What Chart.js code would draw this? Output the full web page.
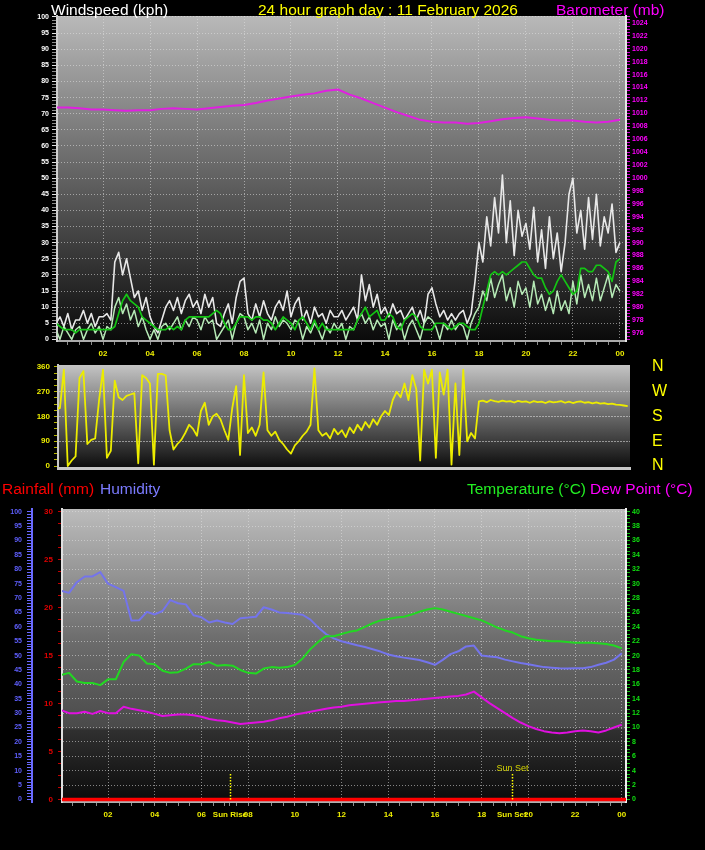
<!DOCTYPE html>
<html>
<head>
<meta charset="utf-8">
<title>24 hour graph</title>
<script src="https://cdn.jsdelivr.net/npm/chart.js@4.4.1/dist/chart.umd.min.js"></script>
<style>
  html, body { margin:0; padding:0; background:#000; }
  body { position:relative; width:705px; height:850px; overflow:hidden; font-family:'Liberation Sans', Arial, sans-serif; }
  canvas { position:absolute; left:0; }
  .txt { position:absolute; font-size:15.5px; line-height:16px; white-space:nowrap; }
</style>
</head>
<body>
<canvas id="windChart" width="705" height="360" style="top:0"></canvas>
<canvas id="dirChart" width="705" height="120" style="top:355px"></canvas>
<canvas id="climateChart" width="705" height="370" style="top:480px"></canvas>

<div class="txt" style="left:51px;top:2px;color:#ffffff">Windspeed (kph)</div>
<div class="txt" style="left:258px;top:2px;color:#ffff00">24 hour graph day : 11 February 2026</div>
<div class="txt" style="left:556px;top:2px;color:#ff00ff">Barometer (mb)</div>
<div class="txt" style="left:2px;top:481px;color:#ff0000">Rainfall (mm)</div>
<div class="txt" style="left:100px;top:481px;color:#7b7bff">Humidity</div>
<div class="txt" style="left:467px;top:481px;color:#22ee22">Temperature (°C)</div>
<div class="txt" style="left:590px;top:481px;color:#ff00ff">Dew Point (°C)</div>

<script>
// ---------- Data (hours of the day on x) ----------
const labelHours = [2, 4, 6, 8, 10, 12, 14, 16, 18, 20, 22, 24];
const hourLabels = ['02', '04', '06', '08', '10', '12', '14', '16', '18', '20', '22', '00'];
const sunHours = [7.22, 19.29];
const sunLabels = ['Sun Rise', 'Sun Set'];
const sunTopLabels = ['', 'Sun Set'];
const sunLineTop = 9.2;            // humidity units
const compassDegrees = [0, 90, 180, 270, 360];
const compassLabels = ['N', 'E', 'S', 'W', 'N'];

// wind (kph), one reading every 10 min from 00:00
const windGust = [
  5,7,4,8,3,6,  6,9,5,8,4,7,  7,8,6,24,27,20,  25,19,13,15,9,13,
  7,4,2,6,10,12,  9,13,8,12,14,10,  12,8,14,10,13,5,  4,8,11,5,13,18,
  19,8,6,11,7,12,  8,6,10,12,9,15,  7,11,13,6,9,5,  10,7,8,5,9,7,
  7,9,6,8,10,6,  20,12,17,10,14,8,  10,7,11,8,9,6,  8,10,6,9,5,14,
  16,11,7,9,6,8,  6,8,9,5,8,18,  30,24,38,29,44,33,  51,30,43,26,40,32,
  36,28,41,24,34,22,  38,25,33,21,30,45,  50,33,40,28,44,31,  45,29,38,33,42,27,
  30
];
const windSpeed = [
  3,0,4,2,0,3,  4,0,3,5,2,4,  0,4,3,10,13,8,  11,6,9,4,7,3,
  0,3,0,4,5,3,  5,7,3,6,4,7,  6,3,7,5,6,0,  2,4,6,0,5,8,
  7,3,5,2,6,0,  5,3,7,4,6,5,  3,6,5,0,4,2,  5,3,0,4,2,5,
  3,5,0,4,3,6,  8,5,7,3,6,4,  5,0,6,3,5,0,  4,6,3,0,5,7,
  6,4,0,5,3,6,  3,5,4,0,5,8,  10,15,12,19,13,17,  20,12,16,10,18,14,
  16,10,18,11,14,9,  13,8,15,9,12,8,  18,11,20,13,17,12,  19,12,16,20,13,17,
  15
];
const windAvg = [
  5,4,3,3,3,2,  3,3,3,3,3,3,  3,3,3,4,8,12,  14,12,11,10,7,6,
  5,4,3,3,3,4,  3,4,3,6,7,7,  7,7,7,7,8,9,  8,5,3,3,5,7,
  7,7,6,7,7,6,  6,5,3,5,7,6,  5,3,6,7,5,3,  6,3,5,3,3,3,
  3,3,3,3,3,6,  8,10,7,8,9,6,  6,8,7,4,3,6,  7,8,7,4,3,3,
  3,5,5,5,4,3,  4,5,5,4,3,3,  5,10,15,20,21,20,  21,20,21,22,23,24,
  24,22,20,19,19,16,  14,15,18,20,18,16,  14,15,22,22,21,21,  23,23,22,21,18,24,
  25
];
// barometer (mb), every 30 min
const baro = [
  1010.9, 1010.9, 1010.8, 1010.6, 1010.6, 1010.5, 1010.4, 1010.5, 1010.5, 1010.7,
  1010.8, 1010.7, 1010.6, 1010.8, 1011.0, 1011.2, 1011.3, 1011.6, 1012.0, 1012.3,
  1012.6, 1012.9, 1013.1, 1013.5, 1013.7, 1012.9, 1012.3, 1011.6, 1010.9, 1010.2,
  1009.6, 1009.0, 1008.7, 1008.6, 1008.6, 1008.4, 1008.5, 1008.8, 1009.1, 1009.3,
  1009.4, 1009.2, 1009.0, 1008.9, 1008.9, 1008.7, 1008.6, 1008.7, 1009.0
];
// wind direction (degrees), every 10 min from 00:00 to 24:20
const windDir = [
  210,210,350,0,20,35,  320,345,80,95,100,240,  350,30,55,310,250,240,  255,260,265,10,330,320,
  300,5,335,335,330,130,  60,80,95,120,150,135,  110,200,230,150,180,190,  170,130,95,210,290,40,
  330,120,140,110,150,340,  130,110,125,95,80,60,  45,75,90,110,125,150,  355,130,110,120,100,135,
  115,130,105,140,120,150,  130,160,140,170,150,180,  200,185,240,270,250,300,  240,330,280,20,350,300,
  350,30,340,260,350,5,  300,40,350,90,120,100,  235,238,232,240,236,233,  238,234,236,231,237,233,
  235,230,236,232,234,229,  235,231,233,236,230,234,  229,233,235,230,232,228,  231,227,229,225,227,223,
  222,220,218
];
// climate, every 20 min
const humidity = [
  72.5,71.8,75.5,  77.5,77.5,79,  75,73.8,72.5,  62.2,62.3,65.2,  64.3,65.5,69.3,  68.2,67.8,64,
  63.3,61.5,62.2,  61.5,61,63,  63.2,63.5,66.8,  66,65,64.8,  64.5,64.2,62.5,  59.8,57.5,56,
  55,54.3,53.6,  53,52.2,51.4,  50.4,49.8,49.3,  48.9,48.5,47.7,  46.8,48.5,50.5,  51.5,53.2,53.5,
  50,49.7,49.4,  48.6,48,47.4,  47,46.5,46,  45.8,45.6,45.5,  45.6,45.6,46,  46.8,47.5,48.6,
  50.8
];
const temperature = [
  17.3,17.6,16.4,  16.2,16.2,15.9,  16.7,16.7,19.1,  20.2,20,18.9,  18.8,17.9,17.6,  17.7,18.2,18.8,
  18.8,19.1,18.6,  18.7,18.6,18,  17.6,17.5,18.2,  18.4,18.3,18.4,  18.7,19.6,20.9,  21.9,22.7,22.7,
  23,23.3,23.5,  24,24.5,24.9,  25.1,25.3,25.4,  25.7,26.1,26.4,  26.6,26.4,26.1,  25.8,25.5,25.2,
  24.9,24.4,23.9,  23.5,23.2,22.7,  22.4,22.2,22.1,  22,22,21.9,  21.8,21.8,21.8,  21.7,21.6,21.4,
  21
];
const dewPoint = [
  12.4,12.0,12.0,  12.2,11.9,12.3,  12.0,12.0,12.9,  12.6,12.4,12.2,  11.9,11.6,11.7,  11.8,11.8,11.7,
  11.5,11.2,11.0,  10.9,10.7,10.5,  10.6,10.7,10.8,  11.0,11.3,11.5,  11.8,12.0,12.2,  12.4,12.6,12.8,
  12.9,13.1,13.2,  13.3,13.4,13.5,  13.6,13.7,13.7,  13.8,13.9,14.0,  14.1,14.2,14.3,  14.4,14.6,15.0,
  14.2,13.4,12.7,  12.0,11.3,10.7,  10.2,9.8,9.5,  9.3,9.2,9.3,  9.5,9.6,9.5,  9.3,9.6,10.0,
  10.4
];
const rainTimes = [0, 24.2];
const rainfall = [0, 0];

// ---------- Helpers ----------
const F = "'Liberation Sans', Arial, sans-serif";
const DOT = 'rgba(225,225,225,0.55)';
const tickFont = (size, weight) => ({ family: F, size, weight });

function series(step, values){ return values.map((v, i) => ({ x: i * step, y: v })); }
function pairs(xs, ys){ return ys.map((v, i) => ({ x: xs[i], y: v })); }
function range(from, to, step){
  const out = [];
  for (let i = 0; from + i * step <= to + 1e-9; i++) out.push(+(from + i * step).toFixed(3));
  return out;
}
const isStep = (v, n) => Math.abs(v / n - Math.round(v / n)) < 1e-6;
const setTicks = values => s => { s.ticks = values.map(v => ({ value: v })); };
const fixW = w => s => { s.width = w; s.paddingTop = 0; s.paddingBottom = 0; };
const fixH = h => s => { s.height = h; s.paddingLeft = 0; s.paddingRight = 0; };
function hourLabel(v){
  let i = labelHours.indexOf(v);
  if (i >= 0) return hourLabels[i];
  i = sunHours.indexOf(v);
  return i >= 0 ? sunLabels[i] : '';
}
const evenHourGrid = c => (c.tick && isStep(c.tick.value, 2)) ? DOT : 'transparent';

function line(data, color, width, axis, order){
  return { data, borderColor: color, borderWidth: width, pointRadius: 0, tension: 0,
           fill: false, yAxisID: axis, order, borderJoinStyle: 'round' };
}
function plotBackground(stops){
  return {
    id: 'plotBg',
    beforeDraw(chart){
      const { ctx, chartArea: a } = chart;
      const g = ctx.createLinearGradient(0, a.top, 0, a.bottom);
      stops.forEach(s => g.addColorStop(s[0], s[1]));
      ctx.save();
      ctx.fillStyle = g;
      ctx.fillRect(a.left, a.top, a.right - a.left, a.bottom - a.top);
      ctx.restore();
    }
  };
}
function baseOptions(padding, scales){
  return {
    responsive: false, animation: false, events: [],
    layout: { padding },
    plugins: { legend: { display: false }, tooltip: { enabled: false } },
    scales
  };
}

// ---------- Wind speed + barometer ----------
new Chart(document.getElementById('windChart'), {
  type: 'line',
  data: { datasets: [
    line(series(1/6, windAvg), '#14c414', 1.7, 'y', 0),
    line(series(1/6, windSpeed), '#b6eab6', 1.5, 'y', 1),
    line(series(1/6, windGust), '#e8e8e8', 1.6, 'y', 2),
    line(series(0.5, baro), '#e020e0', 2, 'yBaro', 3)
  ]},
  options: baseOptions({ top: 16, left: 0, right: 0, bottom: 0 }, {
    x: {
      type: 'linear', min: 0.04, max: 24.26,
      afterBuildTicks: setTicks(range(0.5, 24, 0.5)), afterFit: fixH(19),
      ticks: { autoSkip: false, minRotation: 0, maxRotation: 0, padding: 4, color: '#eeee00',
               font: tickFont(8, 'bold'), callback: v => hourLabel(v) },
      grid: { color: evenHourGrid, tickColor: '#8c8c8c', tickLength: 4 },
      border: { color: '#ababab', width: 2, dash: [1, 2] }
    },
    y: {
      position: 'left', min: -0.5, max: 100.3,
      afterBuildTicks: setTicks(range(0, 100, 1)), afterFit: fixW(57),
      ticks: { autoSkip: false, padding: 3, color: '#ffffff', font: tickFont(7, 'bold'),
               callback: v => isStep(v, 5) ? String(v) : '' },
      grid: { color: c => (c.tick && isStep(c.tick.value, 5) && c.tick.value > 0) ? DOT : 'transparent',
              tickColor: c => (c.tick && isStep(c.tick.value, 5)) ? '#e0e0e0' : '#8a8a8a', tickLength: 5 },
      border: { color: '#cfcfcf', width: 2, dash: [1, 2] }
    },
    yBaro: {
      position: 'right', min: 974.76, max: 1025.08,
      afterBuildTicks: setTicks(range(975, 1025, 0.5)), afterFit: fixW(79),
      ticks: { autoSkip: false, padding: 2, color: '#ff00ff', font: tickFont(7, 'bold'),
               callback: v => isStep(v, 2) ? String(v) : '' },
      grid: { drawOnChartArea: false, tickColor: '#d000d0', tickLength: 4 },
      border: { color: '#e6e6e6', width: 2 }
    }
  }),
  plugins: [plotBackground([[0, '#b9b9b9'], [1, '#0a0a0a']])]
});

// ---------- Wind direction ----------
new Chart(document.getElementById('dirChart'), {
  type: 'line',
  data: { datasets: [ line(series(1/6, windDir), '#ecec00', 1.8, 'y', 0) ] },
  options: baseOptions({ top: 10, left: 0, right: 0, bottom: 0 }, {
    x: {
      type: 'linear', min: 0.085, max: 24.43, afterFit: fixH(7),
      ticks: { display: false }, grid: { display: false },
      border: { color: '#c8c8c8', width: 3 }
    },
    y: {
      position: 'left', min: -7.27, max: 367.27,
      afterBuildTicks: setTicks(range(0, 360, 22.5)), afterFit: fixW(58),
      ticks: { autoSkip: false, padding: 4, color: '#eeee00', font: tickFont(8, 'bold'),
               callback: v => isStep(v, 90) ? String(v) : '' },
      grid: { color: c => (c.tick && isStep(c.tick.value, 90) && c.tick.value > 0 && c.tick.value < 360) ? DOT : 'transparent',
              tickColor: '#b8b800', tickLength: 4 },
      border: { color: '#c8c8c8', width: 2, dash: [2, 1] }
    },
    yCompass: {
      position: 'right', min: -7.27, max: 367.27,
      afterBuildTicks: setTicks(compassDegrees), afterFit: fixW(75),
      ticks: { autoSkip: false, padding: 22, color: '#ffff00', font: tickFont(16, 'normal'),
               callback: v => compassLabels[compassDegrees.indexOf(v)] },
      grid: { drawOnChartArea: false, drawTicks: false },
      border: { display: false }
    }
  }),
  plugins: [plotBackground([[0, '#c4c4c4'], [1, '#0c0c0c']])]
});

// ---------- Rain / humidity / temperature / dew point ----------
const sunMarks = {
  id: 'sunMarks',
  afterDatasetsDraw(chart){
    const { ctx, scales: { x, yHum } } = chart;
    ctx.save();
    ctx.strokeStyle = '#ffff00';
    ctx.lineWidth = 1.5;
    ctx.setLineDash([1.5, 1.5]);
    sunHours.forEach((h, i) => {
      const px = Math.round(x.getPixelForValue(h)) + 0.5;
      const top = yHum.getPixelForValue(sunLineTop);
      ctx.beginPath();
      ctx.moveTo(px, yHum.getPixelForValue(0));
      ctx.lineTo(px, top);
      ctx.stroke();
      if (sunTopLabels[i]) {
        ctx.fillStyle = '#d4d400';
        ctx.font = '9px ' + F;
        ctx.textAlign = 'center';
        ctx.textBaseline = 'bottom';
        ctx.fillText(sunTopLabels[i], px, top);
      }
    });
    ctx.restore();
  }
};

new Chart(document.getElementById('climateChart'), {
  type: 'line',
  data: { datasets: [
    line(pairs(rainTimes, rainfall), '#ff0000', 3.5, 'yRain', 0),
    line(series(1/3, dewPoint), '#e010e0', 2, 'yTemp', 1),
    line(series(1/3, temperature), '#22d822', 2, 'yTemp', 2),
    line(series(1/3, humidity), '#7474ec', 2, 'yHum', 3)
  ]},
  options: baseOptions({ top: 29, left: 0, right: 0, bottom: 0 }, {
    x: {
      type: 'linear', min: 0.03, max: 24.18,
      afterBuildTicks: setTicks(range(0.5, 24, 0.5).concat(sunHours).sort((a, b) => a - b)),
      afterFit: fixH(48),
      ticks: { autoSkip: false, minRotation: 0, maxRotation: 0, padding: 4, color: '#eeee00',
               font: tickFont(8, 'bold'), callback: v => hourLabel(v) },
      grid: { color: evenHourGrid, tickColor: '#8c8c8c', tickLength: 4 },
      border: { color: '#b0b0b0', width: 2, dash: [1, 2] }
    },
    yRain: {
      position: 'left', weight: 0, min: -0.26, max: 30.28,
      afterBuildTicks: setTicks(range(0, 30, 1.25)), afterFit: fixW(30),
      ticks: { autoSkip: false, padding: 5, color: '#e00000', font: tickFont(8, 'bold'),
               callback: v => isStep(v, 5) ? String(v) : '' },
      grid: { drawOnChartArea: false, tickColor: '#c00000', tickLength: 4 },
      border: { color: '#e0e0e0', width: 2 }
    },
    yHum: {
      position: 'left', weight: 1, min: -0.87, max: 100.94,
      afterBuildTicks: setTicks(range(0, 100, 1)), afterFit: fixW(32),
      ticks: { autoSkip: false, padding: 5, color: '#5f5fff', font: tickFont(7, 'bold'),
               callback: v => isStep(v, 5) ? String(v) : '' },
      grid: { color: c => (c.tick && isStep(c.tick.value, 5) && c.tick.value > 0) ? DOT : 'transparent',
              tickColor: '#6a6aff', tickLength: 5 },
      border: { color: '#6a6aff', width: 2, dash: [1, 2] }
    },
    yTemp: {
      position: 'right', min: -0.348, max: 40.375,
      afterBuildTicks: setTicks(range(0, 40, 0.5)), afterFit: fixW(79),
      ticks: { autoSkip: false, padding: 2, color: '#10e010', font: tickFont(7, 'bold'),
               callback: v => isStep(v, 2) ? String(v) : '' },
      grid: { drawOnChartArea: false, tickColor: '#10c010', tickLength: 4 },
      border: { color: '#f0f0f0', width: 2 }
    }
  }),
  plugins: [
    plotBackground([[0, '#bcbcbc'], [0.45, '#6c6c6c'], [0.745, '#4a4a4a'], [0.755, '#303030'], [1, '#0a0a0a']]),
    sunMarks
  ]
});
</script>
</body>
</html>
